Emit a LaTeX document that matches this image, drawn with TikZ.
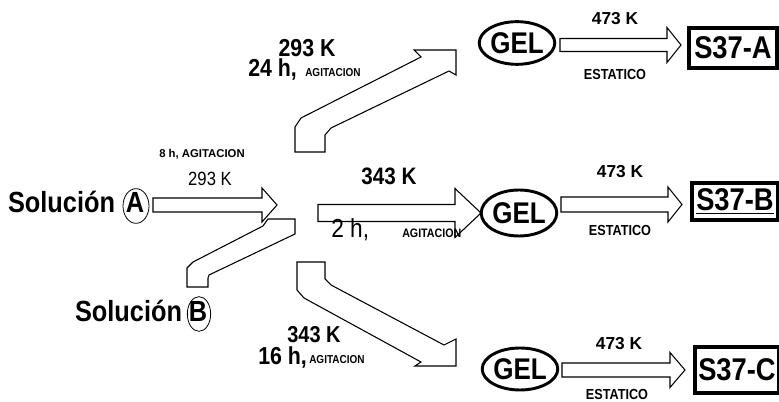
\documentclass[tikz,border=0pt]{standalone}
\usepackage{fontspec}
\setmainfont{Liberation Sans}
\usepackage{graphicx}
\usetikzlibrary{shapes.geometric}
\newcommand{\fsz}[1]{\fontsize{#1}{#1}\selectfont}
\newcommand{\tallbox}[1]{\scalebox{1}[1.15]{#1}}
\newcommand{\harrow}[6]{\draw[blk] (#1,#4-#5) -- (#2,#4-#5) -- (#2,#4-#6) -- (#3,#4) -- (#2,#4+#6) -- (#2,#4+#5) -- (#1,#4+#5) -- cycle;}
\begin{document}
\begin{tikzpicture}[x=0.75pt,y=-0.75pt,
  blk/.style={draw=black,line width=0.8pt,fill=white,line join=miter},
  lbl/.style={inner sep=0pt,anchor=base},
  ring/.style={draw=black,line width=0.6pt,ellipse,inner sep=0pt},
  gel/.style={draw=black,line width=2.2pt,ellipse,inner sep=0pt,font=\bfseries\fsz{19.5}},
  prod/.style={draw=black,line width=3pt,rectangle,inner sep=0pt,font=\bfseries\fsz{20.5}}]
\useasboundingbox (0,0) rectangle (779,402);

% bent block arrows
\draw[blk] (295,152) -- (295,127) -- (301,118) -- (421,57) -- (414,50) -- (456,50) -- (456,75) -- (449,71) -- (331,128) -- (325,135) -- (325,152) -- cycle;
\draw[blk] (297,262) -- (325,262) -- (325,279) -- (331,285) -- (444,345) -- (456,339) -- (456,366) -- (415,366) -- (421,362) -- (304,298) -- (297,290) -- cycle;
\draw[blk] (187,287) -- (187,268) -- (193,262) -- (263,226) -- (268,219) -- (295,219) -- (295,234) -- (209,275) -- (208,278) -- (208,287) -- cycle;

% straight block arrows
\harrow{153}{262}{277}{205}{7}{17}
\harrow{318}{455}{481}{213}{8.5}{24.5}
\harrow{560}{667}{681}{45}{6.5}{17.5}
\harrow{561}{668}{682}{204.5}{7.5}{17.5}
\harrow{562}{670}{685}{370}{7}{17.5}

% starting solutions
\node[lbl,font=\bfseries\fsz{19}] (solA) at (61.5,213) {\tallbox{Solución}};
\node[lbl,font=\bfseries\fsz{19}] (letA) at (135,213) {\tallbox{A}};
\node[ring,minimum width=19.5pt,minimum height=26pt] (ringA) at (136,206) {};
\node[lbl,font=\bfseries\fsz{19}] (solB) at (128.5,322) {\tallbox{Solución}};
\node[lbl,font=\bfseries\fsz{19}] (letB) at (198,322) {\tallbox{B}};
\node[ring,minimum width=17.5pt,minimum height=26pt] (ringB) at (199,314) {};

% gels
\node[gel,minimum width=55.5pt,minimum height=32pt] (gelA) at (517,43) {\tallbox{GEL}};
\node[gel,minimum width=55.5pt,minimum height=34.5pt] (gelB) at (519,213) {\tallbox{GEL}};
\node[gel,minimum width=55.5pt,minimum height=31.5pt] (gelC) at (520,369) {\tallbox{GEL}};

% products
\node[prod,minimum width=66pt,minimum height=30pt] (prodA) at (733,48) {\tallbox{S37-A}};
\node[prod,minimum width=64.5pt,minimum height=28pt] (prodB) at (735,201.5) {\tallbox{\underline{S37-B}}};
\node[prod,minimum width=63pt,minimum height=34.5pt] (prodC) at (737,370) {\tallbox{S37-C}};

% conditions
\node[lbl,font=\bfseries\fsz{8.5}] (t8h) at (202,158) {8 h, AGITACION};
\node[lbl,font=\fsz{12.5}] (t293a) at (210,186) {\tallbox{293 K}};
\node[lbl,font=\bfseries\fsz{16}] (t293b) at (307,57) {\tallbox{293 K}};
\node[lbl,anchor=base west,font=\bfseries\fsz{16}] (t24h) at (248,77) {\tallbox{24 h,}};
\node[lbl,anchor=base west,font=\bfseries\fsz{7.5}] (ag1) at (305,77) {\tallbox{AGITACION}};
\node[lbl,font=\bfseries\fsz{15.5}] (t343a) at (389,185) {\tallbox{343 K}};
\node[lbl,anchor=base west,font=\fsz{17}] (t2h) at (331,238) {\tallbox{2 h,}};
\node[lbl,anchor=base west,font=\bfseries\fsz{8}] (ag2) at (402,238) {\tallbox{AGITACION}};
\node[lbl,font=\bfseries\fsz{15}] (t343b) at (314,343) {\tallbox{343 K}};
\node[lbl,anchor=base west,font=\bfseries\fsz{16}] (t16h) at (258,365) {\tallbox{16 h,}};
\node[lbl,anchor=base west,font=\bfseries\fsz{7.5}] (ag3) at (309,364) {\tallbox{AGITACION}};

\node[lbl,font=\bfseries\fsz{13}] (kA) at (615,25) {473 K};
\node[lbl,font=\bfseries\fsz{9.5}] (eA) at (615,80) {\tallbox{ESTATICO}};
\node[lbl,font=\bfseries\fsz{13}] (kB) at (620,178) {473 K};
\node[lbl,font=\bfseries\fsz{9.5}] (eB) at (620,236) {\tallbox{ESTATICO}};
\node[lbl,font=\bfseries\fsz{13}] (kC) at (619,350) {473 K};
\node[lbl,font=\bfseries\fsz{9.5}] (eC) at (617,400) {\tallbox{ESTATICO}};
\end{tikzpicture}
\end{document}
